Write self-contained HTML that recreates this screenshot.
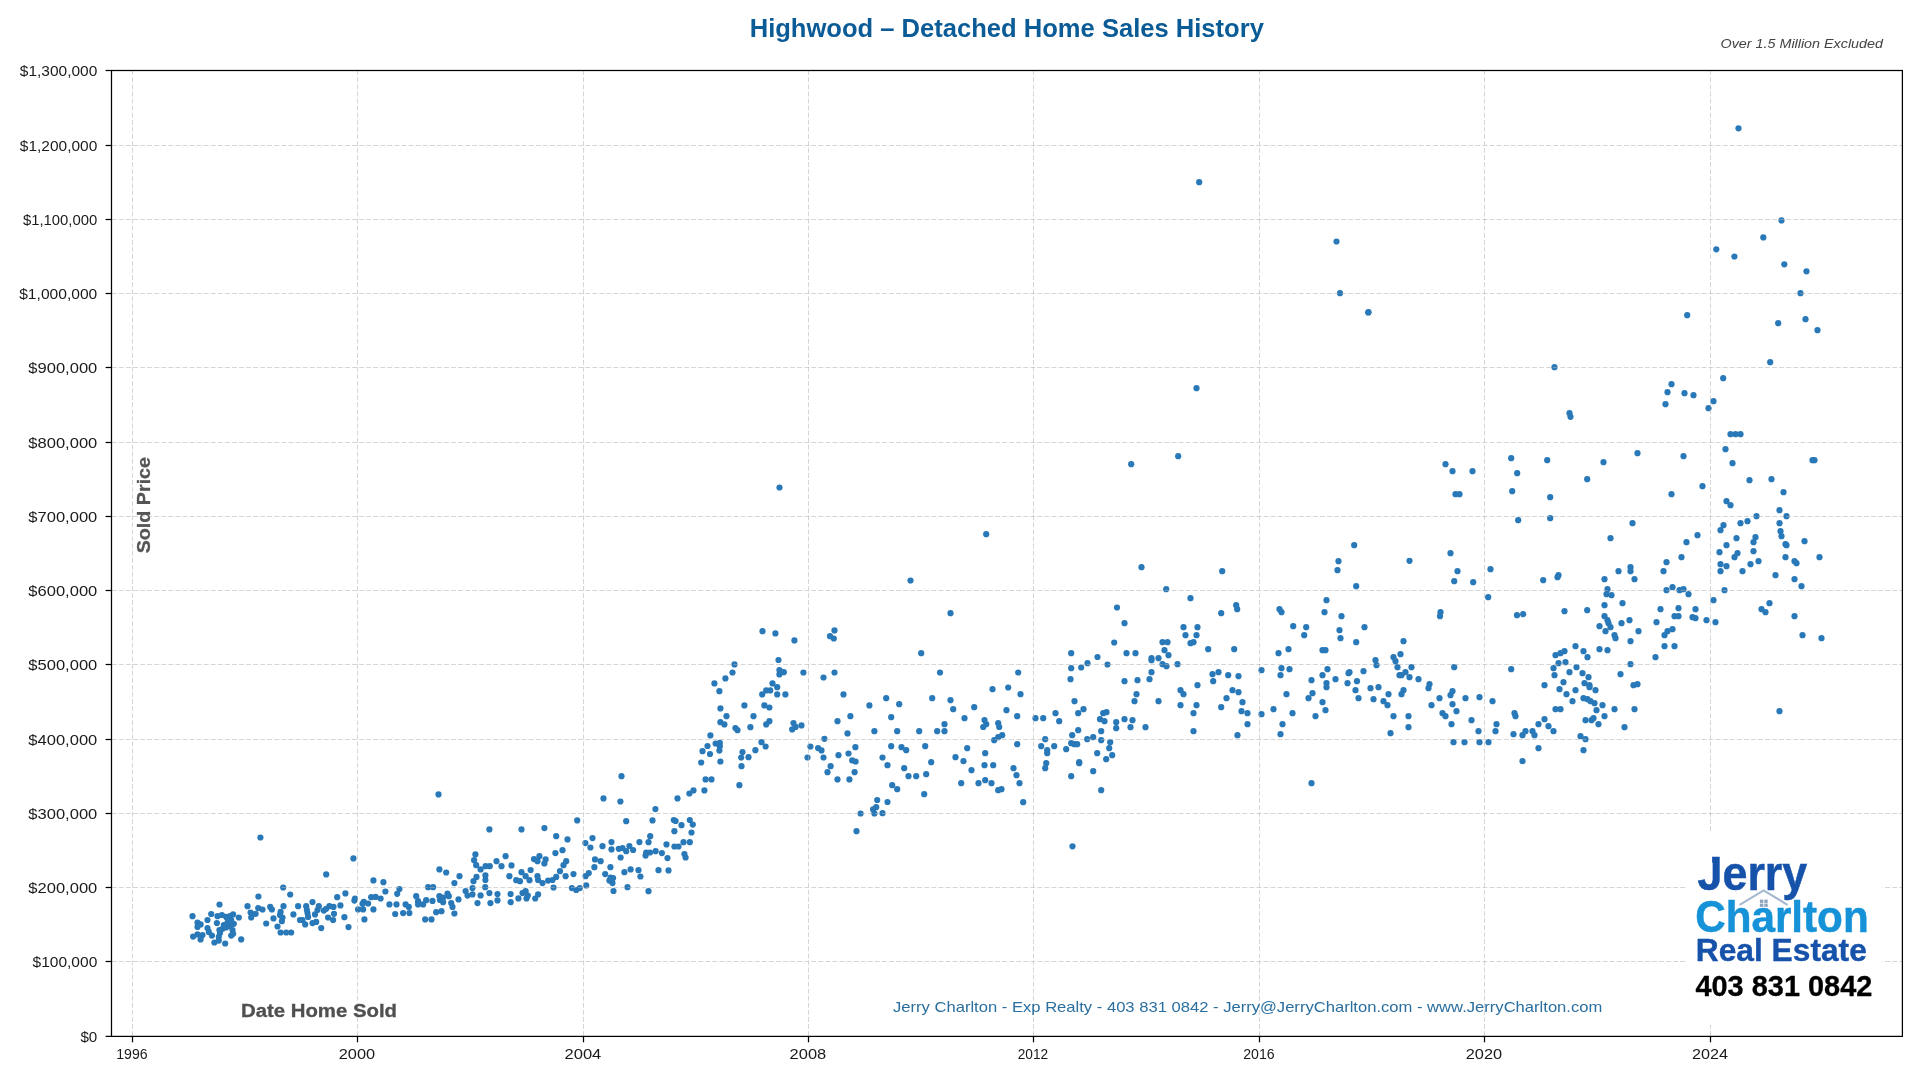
<!DOCTYPE html>
<html><head><meta charset="utf-8"><title>Highwood – Detached Home Sales History</title>
<style>
html,body{margin:0;padding:0;background:#fff;}
body{width:1920px;height:1080px;overflow:hidden;position:relative;font-family:"Liberation Sans",sans-serif;}
svg{position:absolute;left:0;top:0;will-change:transform;}
text{font-family:"Liberation Sans",sans-serif;}
</style></head><body>
<svg width="1920" height="1080" viewBox="0 0 1920 1080">
<g fill="#2978b8"><circle cx="260.4" cy="837.5" r="3.1"/><circle cx="283.2" cy="887.5" r="3.1"/><circle cx="290.2" cy="894.5" r="3.1"/><circle cx="258.4" cy="896.5" r="3.1"/><circle cx="219.5" cy="904.5" r="3.1"/><circle cx="247.5" cy="906.2" r="3.1"/><circle cx="258.2" cy="908.1" r="3.1"/><circle cx="262.5" cy="909.5" r="3.1"/><circle cx="270.2" cy="906.9" r="3.1"/><circle cx="271.9" cy="909.5" r="3.1"/><circle cx="283.5" cy="906.2" r="3.1"/><circle cx="298.1" cy="906.2" r="3.1"/><circle cx="192.5" cy="916.2" r="3.1"/><circle cx="211.2" cy="914.0" r="3.1"/><circle cx="207.5" cy="920.0" r="3.1"/><circle cx="217.5" cy="916.2" r="3.1"/><circle cx="221.9" cy="915.0" r="3.1"/><circle cx="226.2" cy="916.9" r="3.1"/><circle cx="233.1" cy="914.4" r="3.1"/><circle cx="238.8" cy="917.5" r="3.1"/><circle cx="230.0" cy="916.2" r="3.1"/><circle cx="250.6" cy="912.5" r="3.1"/><circle cx="255.6" cy="913.8" r="3.1"/><circle cx="251.2" cy="917.5" r="3.1"/><circle cx="280.6" cy="911.9" r="3.1"/><circle cx="280.0" cy="915.0" r="3.1"/><circle cx="282.5" cy="917.5" r="3.1"/><circle cx="281.9" cy="921.2" r="3.1"/><circle cx="273.5" cy="918.4" r="3.1"/><circle cx="293.4" cy="914.4" r="3.1"/><circle cx="266.2" cy="923.5" r="3.1"/><circle cx="277.5" cy="926.5" r="3.1"/><circle cx="280.6" cy="932.5" r="3.1"/><circle cx="286.2" cy="932.5" r="3.1"/><circle cx="291.2" cy="932.5" r="3.1"/><circle cx="300.0" cy="920.0" r="3.1"/><circle cx="197.5" cy="922.5" r="3.1"/><circle cx="200.6" cy="924.4" r="3.1"/><circle cx="197.5" cy="926.9" r="3.1"/><circle cx="216.9" cy="923.1" r="3.1"/><circle cx="207.5" cy="928.1" r="3.1"/><circle cx="208.8" cy="931.9" r="3.1"/><circle cx="211.9" cy="935.6" r="3.1"/><circle cx="193.1" cy="936.6" r="3.1"/><circle cx="197.5" cy="934.4" r="3.1"/><circle cx="202.5" cy="935.0" r="3.1"/><circle cx="200.6" cy="939.4" r="3.1"/><circle cx="214.4" cy="942.5" r="3.1"/><circle cx="218.8" cy="940.6" r="3.1"/><circle cx="225.2" cy="943.5" r="3.1"/><circle cx="241.2" cy="939.4" r="3.1"/><circle cx="220.0" cy="933.1" r="3.1"/><circle cx="218.8" cy="936.9" r="3.1"/><circle cx="222.5" cy="928.8" r="3.1"/><circle cx="226.2" cy="927.5" r="3.1"/><circle cx="230.0" cy="926.2" r="3.1"/><circle cx="233.8" cy="923.8" r="3.1"/><circle cx="227.5" cy="922.5" r="3.1"/><circle cx="231.2" cy="920.0" r="3.1"/><circle cx="232.5" cy="930.0" r="3.1"/><circle cx="233.1" cy="933.8" r="3.1"/><circle cx="231.2" cy="935.6" r="3.1"/><circle cx="223.8" cy="925.0" r="3.1"/><circle cx="219.4" cy="930.0" r="3.1"/><circle cx="353.4" cy="858.4" r="3.1"/><circle cx="326.2" cy="874.4" r="3.1"/><circle cx="373.4" cy="880.4" r="3.1"/><circle cx="383.4" cy="882.2" r="3.1"/><circle cx="399.4" cy="889.0" r="3.1"/><circle cx="397.2" cy="893.8" r="3.1"/><circle cx="385.4" cy="891.5" r="3.1"/><circle cx="345.4" cy="893.4" r="3.1"/><circle cx="337.2" cy="897.2" r="3.1"/><circle cx="355.0" cy="898.5" r="3.1"/><circle cx="354.4" cy="900.6" r="3.1"/><circle cx="371.2" cy="897.2" r="3.1"/><circle cx="375.6" cy="896.9" r="3.1"/><circle cx="380.6" cy="898.5" r="3.1"/><circle cx="363.8" cy="901.9" r="3.1"/><circle cx="368.1" cy="903.5" r="3.1"/><circle cx="362.5" cy="903.8" r="3.1"/><circle cx="416.2" cy="896.2" r="3.1"/><circle cx="418.1" cy="901.2" r="3.1"/><circle cx="418.1" cy="904.4" r="3.1"/><circle cx="312.5" cy="902.1" r="3.1"/><circle cx="306.2" cy="906.2" r="3.1"/><circle cx="306.9" cy="910.0" r="3.1"/><circle cx="307.5" cy="913.1" r="3.1"/><circle cx="308.1" cy="916.9" r="3.1"/><circle cx="302.5" cy="920.0" r="3.1"/><circle cx="305.2" cy="924.4" r="3.1"/><circle cx="312.5" cy="923.1" r="3.1"/><circle cx="316.2" cy="921.9" r="3.1"/><circle cx="321.2" cy="928.1" r="3.1"/><circle cx="315.0" cy="914.4" r="3.1"/><circle cx="318.8" cy="906.2" r="3.1"/><circle cx="317.5" cy="910.0" r="3.1"/><circle cx="323.8" cy="910.6" r="3.1"/><circle cx="326.2" cy="908.8" r="3.1"/><circle cx="329.4" cy="906.2" r="3.1"/><circle cx="333.5" cy="906.9" r="3.1"/><circle cx="334.0" cy="913.8" r="3.1"/><circle cx="328.1" cy="917.5" r="3.1"/><circle cx="333.1" cy="920.0" r="3.1"/><circle cx="340.4" cy="905.4" r="3.1"/><circle cx="344.4" cy="917.2" r="3.1"/><circle cx="348.5" cy="927.1" r="3.1"/><circle cx="358.1" cy="909.4" r="3.1"/><circle cx="363.1" cy="909.4" r="3.1"/><circle cx="364.4" cy="919.4" r="3.1"/><circle cx="373.4" cy="909.4" r="3.1"/><circle cx="389.4" cy="904.4" r="3.1"/><circle cx="396.5" cy="904.4" r="3.1"/><circle cx="405.6" cy="904.4" r="3.1"/><circle cx="408.8" cy="906.9" r="3.1"/><circle cx="395.2" cy="914.0" r="3.1"/><circle cx="403.1" cy="913.1" r="3.1"/><circle cx="409.4" cy="913.1" r="3.1"/><circle cx="438.5" cy="794.4" r="3.1"/><circle cx="489.4" cy="829.4" r="3.1"/><circle cx="521.5" cy="829.4" r="3.1"/><circle cx="475.4" cy="854.4" r="3.1"/><circle cx="474.1" cy="860.2" r="3.1"/><circle cx="476.2" cy="865.2" r="3.1"/><circle cx="480.6" cy="869.4" r="3.1"/><circle cx="485.6" cy="866.2" r="3.1"/><circle cx="489.8" cy="866.2" r="3.1"/><circle cx="496.5" cy="861.2" r="3.1"/><circle cx="501.5" cy="866.2" r="3.1"/><circle cx="505.6" cy="856.2" r="3.1"/><circle cx="511.5" cy="865.4" r="3.1"/><circle cx="534.0" cy="859.1" r="3.1"/><circle cx="537.5" cy="861.2" r="3.1"/><circle cx="539.4" cy="856.2" r="3.1"/><circle cx="439.4" cy="869.4" r="3.1"/><circle cx="446.2" cy="872.5" r="3.1"/><circle cx="459.5" cy="876.2" r="3.1"/><circle cx="454.4" cy="883.1" r="3.1"/><circle cx="476.5" cy="876.9" r="3.1"/><circle cx="473.5" cy="881.2" r="3.1"/><circle cx="485.4" cy="875.4" r="3.1"/><circle cx="485.4" cy="880.0" r="3.1"/><circle cx="485.2" cy="887.2" r="3.1"/><circle cx="509.4" cy="876.2" r="3.1"/><circle cx="521.5" cy="872.2" r="3.1"/><circle cx="525.6" cy="876.2" r="3.1"/><circle cx="529.5" cy="880.2" r="3.1"/><circle cx="530.6" cy="870.0" r="3.1"/><circle cx="516.2" cy="880.2" r="3.1"/><circle cx="520.0" cy="881.2" r="3.1"/><circle cx="537.5" cy="876.2" r="3.1"/><circle cx="538.1" cy="880.0" r="3.1"/><circle cx="428.1" cy="887.2" r="3.1"/><circle cx="433.1" cy="887.2" r="3.1"/><circle cx="472.5" cy="888.1" r="3.1"/><circle cx="465.6" cy="891.0" r="3.1"/><circle cx="467.5" cy="895.6" r="3.1"/><circle cx="472.5" cy="894.4" r="3.1"/><circle cx="480.6" cy="895.4" r="3.1"/><circle cx="489.4" cy="893.1" r="3.1"/><circle cx="497.5" cy="894.1" r="3.1"/><circle cx="497.5" cy="900.4" r="3.1"/><circle cx="510.6" cy="894.1" r="3.1"/><circle cx="510.6" cy="902.2" r="3.1"/><circle cx="518.4" cy="898.4" r="3.1"/><circle cx="522.5" cy="893.1" r="3.1"/><circle cx="525.6" cy="891.2" r="3.1"/><circle cx="527.8" cy="895.6" r="3.1"/><circle cx="526.5" cy="898.5" r="3.1"/><circle cx="535.2" cy="898.5" r="3.1"/><circle cx="538.1" cy="894.4" r="3.1"/><circle cx="477.5" cy="903.1" r="3.1"/><circle cx="490.4" cy="903.1" r="3.1"/><circle cx="458.5" cy="899.4" r="3.1"/><circle cx="451.2" cy="903.1" r="3.1"/><circle cx="452.5" cy="906.9" r="3.1"/><circle cx="454.4" cy="913.5" r="3.1"/><circle cx="426.2" cy="900.2" r="3.1"/><circle cx="432.5" cy="900.9" r="3.1"/><circle cx="439.4" cy="896.2" r="3.1"/><circle cx="443.1" cy="897.5" r="3.1"/><circle cx="447.5" cy="893.5" r="3.1"/><circle cx="448.8" cy="896.2" r="3.1"/><circle cx="440.0" cy="900.0" r="3.1"/><circle cx="443.1" cy="902.2" r="3.1"/><circle cx="423.1" cy="904.4" r="3.1"/><circle cx="436.2" cy="912.2" r="3.1"/><circle cx="441.5" cy="911.2" r="3.1"/><circle cx="425.2" cy="919.4" r="3.1"/><circle cx="431.5" cy="919.4" r="3.1"/><circle cx="621.5" cy="776.2" r="3.1"/><circle cx="603.5" cy="798.4" r="3.1"/><circle cx="620.4" cy="801.5" r="3.1"/><circle cx="655.4" cy="809.1" r="3.1"/><circle cx="577.2" cy="820.4" r="3.1"/><circle cx="626.2" cy="821.2" r="3.1"/><circle cx="652.5" cy="820.4" r="3.1"/><circle cx="544.4" cy="828.1" r="3.1"/><circle cx="556.2" cy="836.2" r="3.1"/><circle cx="567.5" cy="839.4" r="3.1"/><circle cx="592.5" cy="838.1" r="3.1"/><circle cx="585.4" cy="843.1" r="3.1"/><circle cx="590.4" cy="847.5" r="3.1"/><circle cx="602.5" cy="846.2" r="3.1"/><circle cx="611.5" cy="842.1" r="3.1"/><circle cx="611.5" cy="849.4" r="3.1"/><circle cx="618.8" cy="848.8" r="3.1"/><circle cx="622.5" cy="848.1" r="3.1"/><circle cx="626.2" cy="851.2" r="3.1"/><circle cx="629.4" cy="846.0" r="3.1"/><circle cx="633.1" cy="850.0" r="3.1"/><circle cx="639.4" cy="842.1" r="3.1"/><circle cx="650.2" cy="836.2" r="3.1"/><circle cx="648.5" cy="842.2" r="3.1"/><circle cx="646.2" cy="852.5" r="3.1"/><circle cx="645.6" cy="855.6" r="3.1"/><circle cx="650.0" cy="852.5" r="3.1"/><circle cx="655.6" cy="851.2" r="3.1"/><circle cx="562.5" cy="850.2" r="3.1"/><circle cx="555.4" cy="853.1" r="3.1"/><circle cx="620.6" cy="857.5" r="3.1"/><circle cx="545.6" cy="859.4" r="3.1"/><circle cx="544.4" cy="863.5" r="3.1"/><circle cx="566.2" cy="861.2" r="3.1"/><circle cx="563.5" cy="865.2" r="3.1"/><circle cx="560.0" cy="871.2" r="3.1"/><circle cx="556.2" cy="876.9" r="3.1"/><circle cx="552.5" cy="880.0" r="3.1"/><circle cx="548.1" cy="880.6" r="3.1"/><circle cx="542.5" cy="883.1" r="3.1"/><circle cx="565.6" cy="876.2" r="3.1"/><circle cx="573.5" cy="874.1" r="3.1"/><circle cx="595.0" cy="859.4" r="3.1"/><circle cx="600.6" cy="861.2" r="3.1"/><circle cx="594.4" cy="867.2" r="3.1"/><circle cx="610.4" cy="867.2" r="3.1"/><circle cx="588.8" cy="873.1" r="3.1"/><circle cx="585.6" cy="876.2" r="3.1"/><circle cx="605.2" cy="874.1" r="3.1"/><circle cx="610.6" cy="877.5" r="3.1"/><circle cx="613.1" cy="878.1" r="3.1"/><circle cx="609.4" cy="880.6" r="3.1"/><circle cx="612.5" cy="883.1" r="3.1"/><circle cx="624.4" cy="872.2" r="3.1"/><circle cx="630.6" cy="869.4" r="3.1"/><circle cx="638.5" cy="870.2" r="3.1"/><circle cx="640.4" cy="876.5" r="3.1"/><circle cx="658.5" cy="870.2" r="3.1"/><circle cx="586.2" cy="885.4" r="3.1"/><circle cx="571.9" cy="888.1" r="3.1"/><circle cx="576.2" cy="890.0" r="3.1"/><circle cx="579.8" cy="888.1" r="3.1"/><circle cx="553.5" cy="887.5" r="3.1"/><circle cx="613.5" cy="891.0" r="3.1"/><circle cx="627.5" cy="887.2" r="3.1"/><circle cx="648.5" cy="891.2" r="3.1"/><circle cx="707.5" cy="746.0" r="3.1"/><circle cx="715.6" cy="743.5" r="3.1"/><circle cx="719.8" cy="742.8" r="3.1"/><circle cx="719.8" cy="746.2" r="3.1"/><circle cx="719.4" cy="750.6" r="3.1"/><circle cx="702.5" cy="751.2" r="3.1"/><circle cx="710.0" cy="754.0" r="3.1"/><circle cx="701.2" cy="762.5" r="3.1"/><circle cx="720.4" cy="761.5" r="3.1"/><circle cx="742.5" cy="752.1" r="3.1"/><circle cx="741.2" cy="757.5" r="3.1"/><circle cx="748.5" cy="757.2" r="3.1"/><circle cx="741.5" cy="766.2" r="3.1"/><circle cx="755.4" cy="750.2" r="3.1"/><circle cx="761.5" cy="742.2" r="3.1"/><circle cx="765.6" cy="746.5" r="3.1"/><circle cx="705.6" cy="779.4" r="3.1"/><circle cx="711.5" cy="779.4" r="3.1"/><circle cx="739.4" cy="785.2" r="3.1"/><circle cx="704.4" cy="790.4" r="3.1"/><circle cx="693.5" cy="790.4" r="3.1"/><circle cx="689.4" cy="793.5" r="3.1"/><circle cx="677.5" cy="798.4" r="3.1"/><circle cx="673.8" cy="820.0" r="3.1"/><circle cx="675.6" cy="821.0" r="3.1"/><circle cx="681.5" cy="825.2" r="3.1"/><circle cx="689.8" cy="820.0" r="3.1"/><circle cx="692.8" cy="824.6" r="3.1"/><circle cx="674.4" cy="831.2" r="3.1"/><circle cx="691.5" cy="832.5" r="3.1"/><circle cx="666.5" cy="844.4" r="3.1"/><circle cx="674.4" cy="846.5" r="3.1"/><circle cx="678.5" cy="846.5" r="3.1"/><circle cx="683.5" cy="842.2" r="3.1"/><circle cx="689.8" cy="842.2" r="3.1"/><circle cx="661.9" cy="853.1" r="3.1"/><circle cx="667.5" cy="858.1" r="3.1"/><circle cx="684.4" cy="854.0" r="3.1"/><circle cx="685.6" cy="857.5" r="3.1"/><circle cx="668.5" cy="870.4" r="3.1"/><circle cx="762.5" cy="631.2" r="3.1"/><circle cx="775.4" cy="633.4" r="3.1"/><circle cx="778.5" cy="660.0" r="3.1"/><circle cx="779.4" cy="670.0" r="3.1"/><circle cx="779.4" cy="674.4" r="3.1"/><circle cx="734.5" cy="664.4" r="3.1"/><circle cx="732.5" cy="672.5" r="3.1"/><circle cx="725.4" cy="678.4" r="3.1"/><circle cx="714.4" cy="683.4" r="3.1"/><circle cx="719.4" cy="691.2" r="3.1"/><circle cx="772.5" cy="683.4" r="3.1"/><circle cx="777.2" cy="687.2" r="3.1"/><circle cx="766.2" cy="690.4" r="3.1"/><circle cx="770.2" cy="690.4" r="3.1"/><circle cx="762.2" cy="694.4" r="3.1"/><circle cx="777.2" cy="694.4" r="3.1"/><circle cx="744.4" cy="705.4" r="3.1"/><circle cx="720.4" cy="708.4" r="3.1"/><circle cx="764.4" cy="705.4" r="3.1"/><circle cx="769.4" cy="707.5" r="3.1"/><circle cx="726.5" cy="716.2" r="3.1"/><circle cx="753.5" cy="716.2" r="3.1"/><circle cx="720.4" cy="722.2" r="3.1"/><circle cx="724.4" cy="724.4" r="3.1"/><circle cx="769.4" cy="721.2" r="3.1"/><circle cx="766.2" cy="724.4" r="3.1"/><circle cx="735.4" cy="728.1" r="3.1"/><circle cx="737.5" cy="730.2" r="3.1"/><circle cx="750.4" cy="727.2" r="3.1"/><circle cx="710.4" cy="735.4" r="3.1"/><circle cx="794.4" cy="640.4" r="3.1"/><circle cx="834.5" cy="630.4" r="3.1"/><circle cx="830.0" cy="636.2" r="3.1"/><circle cx="833.8" cy="638.5" r="3.1"/><circle cx="783.8" cy="672.2" r="3.1"/><circle cx="803.4" cy="672.5" r="3.1"/><circle cx="823.5" cy="677.5" r="3.1"/><circle cx="834.5" cy="672.5" r="3.1"/><circle cx="785.4" cy="694.4" r="3.1"/><circle cx="843.5" cy="694.4" r="3.1"/><circle cx="869.4" cy="705.4" r="3.1"/><circle cx="850.4" cy="716.2" r="3.1"/><circle cx="837.5" cy="721.2" r="3.1"/><circle cx="793.5" cy="723.1" r="3.1"/><circle cx="795.6" cy="726.9" r="3.1"/><circle cx="792.2" cy="729.4" r="3.1"/><circle cx="801.5" cy="725.4" r="3.1"/><circle cx="847.5" cy="733.4" r="3.1"/><circle cx="874.4" cy="731.2" r="3.1"/><circle cx="824.4" cy="738.8" r="3.1"/><circle cx="810.4" cy="746.5" r="3.1"/><circle cx="818.1" cy="748.1" r="3.1"/><circle cx="821.5" cy="750.4" r="3.1"/><circle cx="807.5" cy="757.5" r="3.1"/><circle cx="823.5" cy="757.5" r="3.1"/><circle cx="838.5" cy="755.2" r="3.1"/><circle cx="848.5" cy="753.5" r="3.1"/><circle cx="855.4" cy="747.2" r="3.1"/><circle cx="852.2" cy="760.4" r="3.1"/><circle cx="855.6" cy="761.5" r="3.1"/><circle cx="830.6" cy="766.2" r="3.1"/><circle cx="827.5" cy="772.2" r="3.1"/><circle cx="854.6" cy="772.2" r="3.1"/><circle cx="837.5" cy="779.4" r="3.1"/><circle cx="849.4" cy="779.4" r="3.1"/><circle cx="877.2" cy="800.0" r="3.1"/><circle cx="876.2" cy="807.2" r="3.1"/><circle cx="873.1" cy="809.4" r="3.1"/><circle cx="874.4" cy="813.5" r="3.1"/><circle cx="860.6" cy="813.5" r="3.1"/><circle cx="856.5" cy="831.2" r="3.1"/><circle cx="910.5" cy="580.5" r="3.1"/><circle cx="950.5" cy="613.2" r="3.1"/><circle cx="921.2" cy="653.2" r="3.1"/><circle cx="940.0" cy="672.5" r="3.1"/><circle cx="1018.2" cy="672.5" r="3.1"/><circle cx="1117.0" cy="607.5" r="3.1"/><circle cx="1114.2" cy="642.5" r="3.1"/><circle cx="1071.2" cy="653.2" r="3.1"/><circle cx="1071.2" cy="668.2" r="3.1"/><circle cx="1081.2" cy="667.5" r="3.1"/><circle cx="1087.5" cy="663.2" r="3.1"/><circle cx="1097.5" cy="657.0" r="3.1"/><circle cx="1107.5" cy="664.5" r="3.1"/><circle cx="1070.5" cy="679.2" r="3.1"/><circle cx="992.5" cy="689.2" r="3.1"/><circle cx="1008.2" cy="687.5" r="3.1"/><circle cx="1020.5" cy="694.2" r="3.1"/><circle cx="886.2" cy="698.2" r="3.1"/><circle cx="899.2" cy="704.2" r="3.1"/><circle cx="932.2" cy="698.2" r="3.1"/><circle cx="950.5" cy="700.2" r="3.1"/><circle cx="953.2" cy="709.2" r="3.1"/><circle cx="974.2" cy="707.2" r="3.1"/><circle cx="1006.5" cy="710.2" r="3.1"/><circle cx="1017.2" cy="716.2" r="3.1"/><circle cx="891.2" cy="717.2" r="3.1"/><circle cx="964.5" cy="718.2" r="3.1"/><circle cx="984.5" cy="720.0" r="3.1"/><circle cx="986.2" cy="724.2" r="3.1"/><circle cx="983.2" cy="727.0" r="3.1"/><circle cx="998.2" cy="723.2" r="3.1"/><circle cx="999.2" cy="727.0" r="3.1"/><circle cx="944.5" cy="724.2" r="3.1"/><circle cx="937.2" cy="731.2" r="3.1"/><circle cx="944.5" cy="731.2" r="3.1"/><circle cx="919.2" cy="731.2" r="3.1"/><circle cx="897.2" cy="731.2" r="3.1"/><circle cx="994.2" cy="740.2" r="3.1"/><circle cx="998.2" cy="737.2" r="3.1"/><circle cx="1002.2" cy="735.2" r="3.1"/><circle cx="1017.2" cy="744.2" r="3.1"/><circle cx="891.2" cy="746.2" r="3.1"/><circle cx="901.5" cy="747.2" r="3.1"/><circle cx="906.2" cy="750.2" r="3.1"/><circle cx="925.2" cy="746.2" r="3.1"/><circle cx="967.2" cy="748.2" r="3.1"/><circle cx="882.5" cy="757.5" r="3.1"/><circle cx="887.5" cy="765.2" r="3.1"/><circle cx="955.5" cy="757.2" r="3.1"/><circle cx="963.5" cy="761.2" r="3.1"/><circle cx="985.2" cy="753.2" r="3.1"/><circle cx="931.2" cy="762.2" r="3.1"/><circle cx="904.2" cy="768.2" r="3.1"/><circle cx="908.5" cy="776.2" r="3.1"/><circle cx="916.2" cy="776.2" r="3.1"/><circle cx="926.2" cy="774.2" r="3.1"/><circle cx="971.5" cy="770.2" r="3.1"/><circle cx="984.5" cy="765.2" r="3.1"/><circle cx="993.2" cy="765.2" r="3.1"/><circle cx="1013.5" cy="768.2" r="3.1"/><circle cx="1016.5" cy="775.2" r="3.1"/><circle cx="1019.5" cy="783.2" r="3.1"/><circle cx="892.2" cy="785.2" r="3.1"/><circle cx="897.2" cy="789.2" r="3.1"/><circle cx="924.2" cy="794.2" r="3.1"/><circle cx="961.2" cy="783.2" r="3.1"/><circle cx="978.5" cy="783.2" r="3.1"/><circle cx="985.2" cy="780.2" r="3.1"/><circle cx="991.5" cy="783.2" r="3.1"/><circle cx="998.2" cy="790.2" r="3.1"/><circle cx="1001.5" cy="789.2" r="3.1"/><circle cx="887.5" cy="802.0" r="3.1"/><circle cx="1023.2" cy="802.2" r="3.1"/><circle cx="882.5" cy="813.2" r="3.1"/><circle cx="1035.5" cy="718.2" r="3.1"/><circle cx="1043.2" cy="718.2" r="3.1"/><circle cx="1055.5" cy="713.2" r="3.1"/><circle cx="1059.2" cy="721.2" r="3.1"/><circle cx="1074.5" cy="701.2" r="3.1"/><circle cx="1078.2" cy="713.2" r="3.1"/><circle cx="1083.5" cy="709.2" r="3.1"/><circle cx="1103.2" cy="713.2" r="3.1"/><circle cx="1106.5" cy="712.2" r="3.1"/><circle cx="1100.0" cy="719.2" r="3.1"/><circle cx="1104.5" cy="721.2" r="3.1"/><circle cx="1116.2" cy="722.2" r="3.1"/><circle cx="1116.2" cy="728.2" r="3.1"/><circle cx="1045.2" cy="739.2" r="3.1"/><circle cx="1041.2" cy="746.2" r="3.1"/><circle cx="1047.2" cy="750.2" r="3.1"/><circle cx="1047.2" cy="753.2" r="3.1"/><circle cx="1054.2" cy="746.2" r="3.1"/><circle cx="1066.2" cy="749.2" r="3.1"/><circle cx="1072.2" cy="735.2" r="3.1"/><circle cx="1078.2" cy="730.2" r="3.1"/><circle cx="1071.2" cy="743.2" r="3.1"/><circle cx="1074.2" cy="744.2" r="3.1"/><circle cx="1077.2" cy="744.2" r="3.1"/><circle cx="1087.2" cy="739.2" r="3.1"/><circle cx="1093.2" cy="737.2" r="3.1"/><circle cx="1101.2" cy="731.2" r="3.1"/><circle cx="1101.2" cy="740.2" r="3.1"/><circle cx="1110.2" cy="742.2" r="3.1"/><circle cx="1109.2" cy="748.2" r="3.1"/><circle cx="1112.2" cy="755.2" r="3.1"/><circle cx="1106.2" cy="759.2" r="3.1"/><circle cx="1097.2" cy="753.2" r="3.1"/><circle cx="1046.2" cy="763.2" r="3.1"/><circle cx="1045.2" cy="768.2" r="3.1"/><circle cx="1079.2" cy="762.2" r="3.1"/><circle cx="1079.2" cy="763.2" r="3.1"/><circle cx="1093.2" cy="771.2" r="3.1"/><circle cx="1071.2" cy="776.2" r="3.1"/><circle cx="1101.2" cy="790.2" r="3.1"/><circle cx="1141.5" cy="567.2" r="3.1"/><circle cx="1222.2" cy="571.2" r="3.1"/><circle cx="1166.2" cy="589.2" r="3.1"/><circle cx="1190.5" cy="598.2" r="3.1"/><circle cx="1236.2" cy="605.2" r="3.1"/><circle cx="1237.2" cy="609.2" r="3.1"/><circle cx="1221.2" cy="613.2" r="3.1"/><circle cx="1124.5" cy="623.2" r="3.1"/><circle cx="1183.5" cy="627.2" r="3.1"/><circle cx="1197.5" cy="627.2" r="3.1"/><circle cx="1185.5" cy="635.2" r="3.1"/><circle cx="1196.5" cy="635.2" r="3.1"/><circle cx="1162.5" cy="642.2" r="3.1"/><circle cx="1167.5" cy="642.2" r="3.1"/><circle cx="1190.5" cy="643.2" r="3.1"/><circle cx="1193.5" cy="642.2" r="3.1"/><circle cx="1164.5" cy="650.2" r="3.1"/><circle cx="1168.5" cy="655.2" r="3.1"/><circle cx="1208.2" cy="649.2" r="3.1"/><circle cx="1234.2" cy="649.2" r="3.1"/><circle cx="1126.5" cy="653.2" r="3.1"/><circle cx="1135.5" cy="653.2" r="3.1"/><circle cx="1151.5" cy="658.2" r="3.1"/><circle cx="1151.5" cy="660.2" r="3.1"/><circle cx="1158.5" cy="658.2" r="3.1"/><circle cx="1162.5" cy="664.2" r="3.1"/><circle cx="1166.5" cy="666.2" r="3.1"/><circle cx="1177.5" cy="664.2" r="3.1"/><circle cx="1151.5" cy="672.2" r="3.1"/><circle cx="1149.5" cy="679.2" r="3.1"/><circle cx="1124.5" cy="681.2" r="3.1"/><circle cx="1137.5" cy="680.2" r="3.1"/><circle cx="1212.5" cy="674.2" r="3.1"/><circle cx="1218.5" cy="672.2" r="3.1"/><circle cx="1228.2" cy="675.2" r="3.1"/><circle cx="1238.5" cy="676.2" r="3.1"/><circle cx="1213.2" cy="681.2" r="3.1"/><circle cx="1197.5" cy="685.2" r="3.1"/><circle cx="1180.5" cy="690.2" r="3.1"/><circle cx="1183.5" cy="694.2" r="3.1"/><circle cx="1136.5" cy="694.2" r="3.1"/><circle cx="1134.5" cy="701.2" r="3.1"/><circle cx="1158.5" cy="701.2" r="3.1"/><circle cx="1232.5" cy="690.2" r="3.1"/><circle cx="1238.5" cy="692.2" r="3.1"/><circle cx="1226.5" cy="698.2" r="3.1"/><circle cx="1242.5" cy="702.2" r="3.1"/><circle cx="1180.5" cy="705.2" r="3.1"/><circle cx="1196.5" cy="705.2" r="3.1"/><circle cx="1221.2" cy="707.2" r="3.1"/><circle cx="1241.5" cy="711.2" r="3.1"/><circle cx="1247.5" cy="713.2" r="3.1"/><circle cx="1193.5" cy="713.2" r="3.1"/><circle cx="1124.5" cy="719.2" r="3.1"/><circle cx="1132.5" cy="720.2" r="3.1"/><circle cx="1130.5" cy="727.2" r="3.1"/><circle cx="1145.5" cy="727.2" r="3.1"/><circle cx="1193.5" cy="731.2" r="3.1"/><circle cx="1247.5" cy="724.2" r="3.1"/><circle cx="1237.5" cy="735.2" r="3.1"/><circle cx="1338.5" cy="561.2" r="3.1"/><circle cx="1337.5" cy="570.2" r="3.1"/><circle cx="1356.2" cy="586.2" r="3.1"/><circle cx="1326.5" cy="600.2" r="3.1"/><circle cx="1324.5" cy="612.2" r="3.1"/><circle cx="1279.5" cy="609.2" r="3.1"/><circle cx="1281.5" cy="612.2" r="3.1"/><circle cx="1341.5" cy="616.2" r="3.1"/><circle cx="1293.2" cy="626.2" r="3.1"/><circle cx="1306.2" cy="627.2" r="3.1"/><circle cx="1304.2" cy="635.2" r="3.1"/><circle cx="1339.5" cy="630.2" r="3.1"/><circle cx="1340.5" cy="638.2" r="3.1"/><circle cx="1356.2" cy="642.2" r="3.1"/><circle cx="1288.5" cy="649.2" r="3.1"/><circle cx="1322.5" cy="650.2" r="3.1"/><circle cx="1325.5" cy="650.2" r="3.1"/><circle cx="1278.5" cy="653.2" r="3.1"/><circle cx="1261.5" cy="670.2" r="3.1"/><circle cx="1281.5" cy="668.2" r="3.1"/><circle cx="1289.5" cy="669.2" r="3.1"/><circle cx="1280.5" cy="675.2" r="3.1"/><circle cx="1327.5" cy="669.2" r="3.1"/><circle cx="1322.5" cy="675.2" r="3.1"/><circle cx="1311.5" cy="680.2" r="3.1"/><circle cx="1326.5" cy="683.2" r="3.1"/><circle cx="1326.5" cy="687.2" r="3.1"/><circle cx="1335.5" cy="679.2" r="3.1"/><circle cx="1348.5" cy="673.2" r="3.1"/><circle cx="1349.5" cy="672.2" r="3.1"/><circle cx="1347.5" cy="683.2" r="3.1"/><circle cx="1357.0" cy="681.2" r="3.1"/><circle cx="1355.5" cy="690.2" r="3.1"/><circle cx="1358.5" cy="698.2" r="3.1"/><circle cx="1286.5" cy="694.2" r="3.1"/><circle cx="1312.5" cy="693.2" r="3.1"/><circle cx="1308.5" cy="698.2" r="3.1"/><circle cx="1322.5" cy="702.2" r="3.1"/><circle cx="1325.5" cy="710.2" r="3.1"/><circle cx="1273.5" cy="709.2" r="3.1"/><circle cx="1292.5" cy="713.2" r="3.1"/><circle cx="1261.5" cy="714.2" r="3.1"/><circle cx="1315.5" cy="716.2" r="3.1"/><circle cx="1282.5" cy="724.2" r="3.1"/><circle cx="1280.5" cy="734.2" r="3.1"/><circle cx="1311.5" cy="783.2" r="3.1"/><circle cx="1409.5" cy="560.8" r="3.1"/><circle cx="1457.5" cy="571.2" r="3.1"/><circle cx="1454.2" cy="581.2" r="3.1"/><circle cx="1473.2" cy="582.2" r="3.1"/><circle cx="1490.5" cy="569.2" r="3.1"/><circle cx="1488.2" cy="597.2" r="3.1"/><circle cx="1543.2" cy="580.2" r="3.1"/><circle cx="1557.5" cy="577.2" r="3.1"/><circle cx="1558.5" cy="575.2" r="3.1"/><circle cx="1564.5" cy="611.2" r="3.1"/><circle cx="1587.2" cy="610.2" r="3.1"/><circle cx="1517.0" cy="615.2" r="3.1"/><circle cx="1523.2" cy="614.2" r="3.1"/><circle cx="1440.5" cy="612.2" r="3.1"/><circle cx="1440.0" cy="616.2" r="3.1"/><circle cx="1364.5" cy="627.2" r="3.1"/><circle cx="1403.5" cy="641.2" r="3.1"/><circle cx="1400.5" cy="654.2" r="3.1"/><circle cx="1393.5" cy="657.2" r="3.1"/><circle cx="1395.5" cy="661.2" r="3.1"/><circle cx="1375.5" cy="660.2" r="3.1"/><circle cx="1376.5" cy="665.2" r="3.1"/><circle cx="1397.5" cy="667.2" r="3.1"/><circle cx="1411.5" cy="667.2" r="3.1"/><circle cx="1363.5" cy="671.2" r="3.1"/><circle cx="1405.5" cy="672.2" r="3.1"/><circle cx="1399.5" cy="675.2" r="3.1"/><circle cx="1401.5" cy="675.2" r="3.1"/><circle cx="1409.5" cy="677.2" r="3.1"/><circle cx="1418.5" cy="679.2" r="3.1"/><circle cx="1454.2" cy="667.2" r="3.1"/><circle cx="1429.5" cy="684.2" r="3.1"/><circle cx="1428.5" cy="688.2" r="3.1"/><circle cx="1370.5" cy="688.2" r="3.1"/><circle cx="1378.5" cy="687.2" r="3.1"/><circle cx="1388.5" cy="694.2" r="3.1"/><circle cx="1403.5" cy="690.2" r="3.1"/><circle cx="1401.5" cy="694.2" r="3.1"/><circle cx="1373.5" cy="699.2" r="3.1"/><circle cx="1383.5" cy="701.2" r="3.1"/><circle cx="1387.5" cy="705.2" r="3.1"/><circle cx="1452.5" cy="691.2" r="3.1"/><circle cx="1450.5" cy="695.2" r="3.1"/><circle cx="1439.5" cy="698.2" r="3.1"/><circle cx="1431.5" cy="705.2" r="3.1"/><circle cx="1465.5" cy="698.2" r="3.1"/><circle cx="1479.5" cy="697.2" r="3.1"/><circle cx="1492.5" cy="701.2" r="3.1"/><circle cx="1452.5" cy="704.2" r="3.1"/><circle cx="1456.5" cy="711.2" r="3.1"/><circle cx="1442.5" cy="713.2" r="3.1"/><circle cx="1445.5" cy="716.2" r="3.1"/><circle cx="1393.5" cy="716.2" r="3.1"/><circle cx="1408.5" cy="716.2" r="3.1"/><circle cx="1408.5" cy="727.2" r="3.1"/><circle cx="1390.5" cy="733.2" r="3.1"/><circle cx="1451.5" cy="724.2" r="3.1"/><circle cx="1471.5" cy="720.2" r="3.1"/><circle cx="1478.5" cy="731.2" r="3.1"/><circle cx="1496.5" cy="724.2" r="3.1"/><circle cx="1495.5" cy="731.2" r="3.1"/><circle cx="1453.5" cy="742.2" r="3.1"/><circle cx="1464.5" cy="742.2" r="3.1"/><circle cx="1479.5" cy="742.2" r="3.1"/><circle cx="1488.5" cy="742.2" r="3.1"/><circle cx="1511.2" cy="669.2" r="3.1"/><circle cx="1544.5" cy="685.2" r="3.1"/><circle cx="1514.5" cy="713.2" r="3.1"/><circle cx="1515.5" cy="716.2" r="3.1"/><circle cx="1513.5" cy="734.2" r="3.1"/><circle cx="1522.5" cy="735.2" r="3.1"/><circle cx="1525.5" cy="731.2" r="3.1"/><circle cx="1532.5" cy="731.2" r="3.1"/><circle cx="1534.5" cy="735.2" r="3.1"/><circle cx="1538.5" cy="724.2" r="3.1"/><circle cx="1544.5" cy="719.2" r="3.1"/><circle cx="1548.5" cy="726.2" r="3.1"/><circle cx="1553.5" cy="731.2" r="3.1"/><circle cx="1538.5" cy="748.2" r="3.1"/><circle cx="1522.5" cy="761.2" r="3.1"/><circle cx="1555.5" cy="655.2" r="3.1"/><circle cx="1560.5" cy="653.2" r="3.1"/><circle cx="1564.5" cy="651.2" r="3.1"/><circle cx="1575.5" cy="646.2" r="3.1"/><circle cx="1583.5" cy="651.2" r="3.1"/><circle cx="1587.5" cy="657.2" r="3.1"/><circle cx="1558.5" cy="663.2" r="3.1"/><circle cx="1565.5" cy="662.2" r="3.1"/><circle cx="1553.5" cy="668.2" r="3.1"/><circle cx="1554.5" cy="675.2" r="3.1"/><circle cx="1569.5" cy="672.2" r="3.1"/><circle cx="1576.5" cy="667.2" r="3.1"/><circle cx="1582.5" cy="673.2" r="3.1"/><circle cx="1588.5" cy="677.2" r="3.1"/><circle cx="1563.5" cy="682.2" r="3.1"/><circle cx="1559.5" cy="689.2" r="3.1"/><circle cx="1584.5" cy="683.2" r="3.1"/><circle cx="1589.5" cy="685.2" r="3.1"/><circle cx="1589.5" cy="687.2" r="3.1"/><circle cx="1595.5" cy="690.2" r="3.1"/><circle cx="1575.5" cy="690.2" r="3.1"/><circle cx="1566.5" cy="694.2" r="3.1"/><circle cx="1572.5" cy="701.2" r="3.1"/><circle cx="1583.5" cy="698.2" r="3.1"/><circle cx="1587.5" cy="699.2" r="3.1"/><circle cx="1590.5" cy="701.2" r="3.1"/><circle cx="1594.5" cy="703.2" r="3.1"/><circle cx="1596.5" cy="710.2" r="3.1"/><circle cx="1555.5" cy="709.2" r="3.1"/><circle cx="1560.5" cy="709.2" r="3.1"/><circle cx="1585.5" cy="720.2" r="3.1"/><circle cx="1591.5" cy="720.2" r="3.1"/><circle cx="1593.5" cy="718.2" r="3.1"/><circle cx="1598.5" cy="724.2" r="3.1"/><circle cx="1580.5" cy="736.2" r="3.1"/><circle cx="1585.5" cy="739.2" r="3.1"/><circle cx="1583.5" cy="750.2" r="3.1"/><circle cx="1599.5" cy="626.2" r="3.1"/><circle cx="1599.5" cy="649.2" r="3.1"/><circle cx="1666.5" cy="562.2" r="3.1"/><circle cx="1630.5" cy="567.2" r="3.1"/><circle cx="1630.5" cy="571.2" r="3.1"/><circle cx="1618.5" cy="571.2" r="3.1"/><circle cx="1663.5" cy="571.2" r="3.1"/><circle cx="1634.5" cy="579.2" r="3.1"/><circle cx="1604.5" cy="579.2" r="3.1"/><circle cx="1607.5" cy="589.2" r="3.1"/><circle cx="1606.5" cy="594.2" r="3.1"/><circle cx="1611.5" cy="595.2" r="3.1"/><circle cx="1666.5" cy="590.2" r="3.1"/><circle cx="1672.5" cy="587.2" r="3.1"/><circle cx="1679.5" cy="590.2" r="3.1"/><circle cx="1683.5" cy="589.2" r="3.1"/><circle cx="1688.5" cy="594.2" r="3.1"/><circle cx="1604.5" cy="605.2" r="3.1"/><circle cx="1622.5" cy="603.2" r="3.1"/><circle cx="1660.5" cy="609.2" r="3.1"/><circle cx="1678.5" cy="608.2" r="3.1"/><circle cx="1695.5" cy="609.2" r="3.1"/><circle cx="1604.5" cy="616.2" r="3.1"/><circle cx="1607.5" cy="620.2" r="3.1"/><circle cx="1608.5" cy="623.2" r="3.1"/><circle cx="1610.5" cy="627.2" r="3.1"/><circle cx="1621.5" cy="623.2" r="3.1"/><circle cx="1629.5" cy="620.2" r="3.1"/><circle cx="1656.5" cy="622.2" r="3.1"/><circle cx="1674.5" cy="616.2" r="3.1"/><circle cx="1678.5" cy="616.2" r="3.1"/><circle cx="1692.5" cy="617.2" r="3.1"/><circle cx="1695.5" cy="618.2" r="3.1"/><circle cx="1706.5" cy="620.2" r="3.1"/><circle cx="1605.5" cy="631.2" r="3.1"/><circle cx="1614.5" cy="635.2" r="3.1"/><circle cx="1615.5" cy="638.2" r="3.1"/><circle cx="1638.5" cy="631.2" r="3.1"/><circle cx="1667.5" cy="631.2" r="3.1"/><circle cx="1664.5" cy="635.2" r="3.1"/><circle cx="1672.5" cy="629.2" r="3.1"/><circle cx="1630.5" cy="641.2" r="3.1"/><circle cx="1607.5" cy="650.2" r="3.1"/><circle cx="1664.5" cy="646.2" r="3.1"/><circle cx="1674.5" cy="646.2" r="3.1"/><circle cx="1655.5" cy="657.2" r="3.1"/><circle cx="1630.5" cy="664.2" r="3.1"/><circle cx="1620.5" cy="674.2" r="3.1"/><circle cx="1633.5" cy="685.2" r="3.1"/><circle cx="1637.5" cy="684.2" r="3.1"/><circle cx="1602.5" cy="705.2" r="3.1"/><circle cx="1614.5" cy="709.2" r="3.1"/><circle cx="1634.5" cy="709.2" r="3.1"/><circle cx="1604.5" cy="716.2" r="3.1"/><circle cx="1624.5" cy="727.2" r="3.1"/><circle cx="1720.5" cy="564.2" r="3.1"/><circle cx="1726.5" cy="566.2" r="3.1"/><circle cx="1720.5" cy="571.2" r="3.1"/><circle cx="1742.5" cy="571.2" r="3.1"/><circle cx="1750.5" cy="564.2" r="3.1"/><circle cx="1758.5" cy="561.2" r="3.1"/><circle cx="1775.5" cy="575.2" r="3.1"/><circle cx="1794.5" cy="579.2" r="3.1"/><circle cx="1794.5" cy="561.2" r="3.1"/><circle cx="1796.5" cy="563.2" r="3.1"/><circle cx="1801.5" cy="586.2" r="3.1"/><circle cx="1724.5" cy="590.2" r="3.1"/><circle cx="1713.5" cy="600.2" r="3.1"/><circle cx="1715.5" cy="622.2" r="3.1"/><circle cx="1761.5" cy="609.2" r="3.1"/><circle cx="1765.5" cy="612.2" r="3.1"/><circle cx="1769.5" cy="603.2" r="3.1"/><circle cx="1794.5" cy="616.2" r="3.1"/><circle cx="1802.5" cy="635.2" r="3.1"/><circle cx="1821.5" cy="638.2" r="3.1"/><circle cx="1779.5" cy="711.2" r="3.1"/><circle cx="1800.5" cy="293.2" r="3.1"/><circle cx="1687.2" cy="315.2" r="3.1"/><circle cx="1778.2" cy="323.2" r="3.1"/><circle cx="1805.5" cy="319.2" r="3.1"/><circle cx="1817.5" cy="330.2" r="3.1"/><circle cx="1770.2" cy="362.2" r="3.1"/><circle cx="1723.2" cy="378.2" r="3.1"/><circle cx="1671.5" cy="384.2" r="3.1"/><circle cx="1667.5" cy="392.2" r="3.1"/><circle cx="1684.5" cy="393.2" r="3.1"/><circle cx="1693.5" cy="395.2" r="3.1"/><circle cx="1665.5" cy="404.2" r="3.1"/><circle cx="1713.5" cy="401.2" r="3.1"/><circle cx="1708.5" cy="408.2" r="3.1"/><circle cx="1730.5" cy="434.2" r="3.1"/><circle cx="1735.5" cy="434.2" r="3.1"/><circle cx="1740.5" cy="434.2" r="3.1"/><circle cx="1725.5" cy="449.2" r="3.1"/><circle cx="1732.5" cy="463.2" r="3.1"/><circle cx="1637.5" cy="453.2" r="3.1"/><circle cx="1683.5" cy="456.2" r="3.1"/><circle cx="1603.5" cy="462.2" r="3.1"/><circle cx="1812.5" cy="460.2" r="3.1"/><circle cx="1814.5" cy="460.2" r="3.1"/><circle cx="1749.5" cy="480.2" r="3.1"/><circle cx="1771.5" cy="479.2" r="3.1"/><circle cx="1783.5" cy="492.2" r="3.1"/><circle cx="1702.5" cy="486.2" r="3.1"/><circle cx="1671.5" cy="494.2" r="3.1"/><circle cx="1726.5" cy="501.2" r="3.1"/><circle cx="1730.5" cy="505.2" r="3.1"/><circle cx="1779.5" cy="510.2" r="3.1"/><circle cx="1786.5" cy="516.2" r="3.1"/><circle cx="1756.5" cy="516.2" r="3.1"/><circle cx="1747.5" cy="521.2" r="3.1"/><circle cx="1740.5" cy="523.2" r="3.1"/><circle cx="1723.5" cy="525.2" r="3.1"/><circle cx="1720.5" cy="530.2" r="3.1"/><circle cx="1779.5" cy="523.2" r="3.1"/><circle cx="1780.5" cy="531.2" r="3.1"/><circle cx="1781.5" cy="536.2" r="3.1"/><circle cx="1632.5" cy="523.2" r="3.1"/><circle cx="1610.5" cy="538.2" r="3.1"/><circle cx="1697.5" cy="535.2" r="3.1"/><circle cx="1686.5" cy="542.2" r="3.1"/><circle cx="1736.5" cy="538.2" r="3.1"/><circle cx="1755.5" cy="537.2" r="3.1"/><circle cx="1753.5" cy="542.2" r="3.1"/><circle cx="1726.5" cy="545.2" r="3.1"/><circle cx="1785.5" cy="544.2" r="3.1"/><circle cx="1786.5" cy="545.2" r="3.1"/><circle cx="1804.5" cy="541.2" r="3.1"/><circle cx="1719.5" cy="552.2" r="3.1"/><circle cx="1737.5" cy="553.2" r="3.1"/><circle cx="1734.5" cy="557.2" r="3.1"/><circle cx="1753.5" cy="551.2" r="3.1"/><circle cx="1681.5" cy="557.2" r="3.1"/><circle cx="1785.5" cy="557.2" r="3.1"/><circle cx="1819.5" cy="557.2" r="3.1"/><circle cx="1368.5" cy="312.2" r="3.1"/><circle cx="1554.5" cy="367.2" r="3.1"/><circle cx="1569.5" cy="413.2" r="3.1"/><circle cx="1570.5" cy="416.8" r="3.1"/><circle cx="1445.5" cy="464.2" r="3.1"/><circle cx="1452.5" cy="471.2" r="3.1"/><circle cx="1472.5" cy="471.2" r="3.1"/><circle cx="1455.5" cy="494.2" r="3.1"/><circle cx="1459.5" cy="494.2" r="3.1"/><circle cx="1511.2" cy="458.2" r="3.1"/><circle cx="1517.2" cy="473.2" r="3.1"/><circle cx="1547.2" cy="460.2" r="3.1"/><circle cx="1587.2" cy="479.2" r="3.1"/><circle cx="1512.2" cy="491.2" r="3.1"/><circle cx="1550.2" cy="497.2" r="3.1"/><circle cx="1518.2" cy="520.2" r="3.1"/><circle cx="1550.2" cy="518.2" r="3.1"/><circle cx="1450.5" cy="553.2" r="3.1"/><circle cx="1340.0" cy="293.2" r="3.1"/><circle cx="1196.5" cy="388.2" r="3.1"/><circle cx="1178.2" cy="456.2" r="3.1"/><circle cx="1131.2" cy="464.2" r="3.1"/><circle cx="1354.2" cy="545.2" r="3.1"/><circle cx="779.5" cy="487.5" r="3.1"/><circle cx="986.2" cy="534.2" r="3.1"/><circle cx="1199.2" cy="182.2" r="3.1"/><circle cx="1336.5" cy="241.5" r="3.1"/><circle cx="1368.2" cy="312.5" r="3.1"/><circle cx="1738.5" cy="128.3" r="3.1"/><circle cx="1781.5" cy="220.4" r="3.1"/><circle cx="1763.3" cy="237.4" r="3.1"/><circle cx="1716.3" cy="249.3" r="3.1"/><circle cx="1734.4" cy="256.5" r="3.1"/><circle cx="1784.3" cy="264.3" r="3.1"/><circle cx="1806.5" cy="271.3" r="3.1"/><circle cx="1072.5" cy="846.3" r="3.1"/></g>
<g stroke="#b0b0b0" stroke-opacity="0.6" stroke-width="0.9" stroke-dasharray="4.85 2.215" stroke-dashoffset="-0.4" fill="none"><line x1="111.5" y1="961.50" x2="1902.4" y2="961.50"/><line x1="111.5" y1="887.50" x2="1902.4" y2="887.50"/><line x1="111.5" y1="813.50" x2="1902.4" y2="813.50"/><line x1="111.5" y1="739.50" x2="1902.4" y2="739.50"/><line x1="111.5" y1="664.50" x2="1902.4" y2="664.50"/><line x1="111.5" y1="590.50" x2="1902.4" y2="590.50"/><line x1="111.5" y1="516.50" x2="1902.4" y2="516.50"/><line x1="111.5" y1="442.50" x2="1902.4" y2="442.50"/><line x1="111.5" y1="367.50" x2="1902.4" y2="367.50"/><line x1="111.5" y1="293.50" x2="1902.4" y2="293.50"/><line x1="111.5" y1="219.50" x2="1902.4" y2="219.50"/><line x1="111.5" y1="145.50" x2="1902.4" y2="145.50"/><line x1="132.50" y1="1036.4" x2="132.50" y2="70.5"/><line x1="357.50" y1="1036.4" x2="357.50" y2="70.5"/><line x1="583.50" y1="1036.4" x2="583.50" y2="70.5"/><line x1="808.50" y1="1036.4" x2="808.50" y2="70.5"/><line x1="1033.50" y1="1036.4" x2="1033.50" y2="70.5"/><line x1="1259.50" y1="1036.4" x2="1259.50" y2="70.5"/><line x1="1484.50" y1="1036.4" x2="1484.50" y2="70.5"/><line x1="1710.50" y1="1036.4" x2="1710.50" y2="70.5"/></g>
<rect x="1685.5" y="832" width="197" height="193" fill="#fff"/>
<rect x="111.5" y="70.5" width="1790.9" height="965.9" fill="none" stroke="#000" stroke-width="1.25"/>
<g stroke="#000" stroke-width="1.25"><line x1="105.6" y1="1036.40" x2="111.5" y2="1036.40"/><line x1="105.6" y1="961.50" x2="111.5" y2="961.50"/><line x1="105.6" y1="887.50" x2="111.5" y2="887.50"/><line x1="105.6" y1="813.50" x2="111.5" y2="813.50"/><line x1="105.6" y1="739.50" x2="111.5" y2="739.50"/><line x1="105.6" y1="664.50" x2="111.5" y2="664.50"/><line x1="105.6" y1="590.50" x2="111.5" y2="590.50"/><line x1="105.6" y1="516.50" x2="111.5" y2="516.50"/><line x1="105.6" y1="442.50" x2="111.5" y2="442.50"/><line x1="105.6" y1="367.50" x2="111.5" y2="367.50"/><line x1="105.6" y1="293.50" x2="111.5" y2="293.50"/><line x1="105.6" y1="219.50" x2="111.5" y2="219.50"/><line x1="105.6" y1="145.50" x2="111.5" y2="145.50"/><line x1="105.6" y1="70.50" x2="111.5" y2="70.50"/><line x1="132.50" y1="1036.4" x2="132.50" y2="1042.3"/><line x1="357.50" y1="1036.4" x2="357.50" y2="1042.3"/><line x1="583.50" y1="1036.4" x2="583.50" y2="1042.3"/><line x1="808.50" y1="1036.4" x2="808.50" y2="1042.3"/><line x1="1033.50" y1="1036.4" x2="1033.50" y2="1042.3"/><line x1="1259.50" y1="1036.4" x2="1259.50" y2="1042.3"/><line x1="1484.50" y1="1036.4" x2="1484.50" y2="1042.3"/><line x1="1710.50" y1="1036.4" x2="1710.50" y2="1042.3"/></g>
<g font-size="15" fill="#1a1a1a"><text x="97.3" y="1041.7" text-anchor="end" textLength="16.9" lengthAdjust="spacingAndGlyphs">$0</text><text x="97.3" y="966.8" text-anchor="end" textLength="64.8" lengthAdjust="spacingAndGlyphs">$100,000</text><text x="97.3" y="892.8" text-anchor="end" textLength="69.0" lengthAdjust="spacingAndGlyphs">$200,000</text><text x="97.3" y="818.8" text-anchor="end" textLength="69.0" lengthAdjust="spacingAndGlyphs">$300,000</text><text x="97.3" y="744.8" text-anchor="end" textLength="69.0" lengthAdjust="spacingAndGlyphs">$400,000</text><text x="97.3" y="669.8" text-anchor="end" textLength="69.0" lengthAdjust="spacingAndGlyphs">$500,000</text><text x="97.3" y="595.8" text-anchor="end" textLength="69.0" lengthAdjust="spacingAndGlyphs">$600,000</text><text x="97.3" y="521.8" text-anchor="end" textLength="69.0" lengthAdjust="spacingAndGlyphs">$700,000</text><text x="97.3" y="447.8" text-anchor="end" textLength="69.0" lengthAdjust="spacingAndGlyphs">$800,000</text><text x="97.3" y="372.8" text-anchor="end" textLength="69.0" lengthAdjust="spacingAndGlyphs">$900,000</text><text x="97.3" y="298.8" text-anchor="end" textLength="78.1" lengthAdjust="spacingAndGlyphs">$1,000,000</text><text x="97.3" y="224.8" text-anchor="end" textLength="74.4" lengthAdjust="spacingAndGlyphs">$1,100,000</text><text x="97.3" y="150.8" text-anchor="end" textLength="77.5" lengthAdjust="spacingAndGlyphs">$1,200,000</text><text x="97.3" y="75.8" text-anchor="end" textLength="77.5" lengthAdjust="spacingAndGlyphs">$1,300,000</text><text x="131.90" y="1058.7" text-anchor="middle" textLength="31.4" lengthAdjust="spacingAndGlyphs">1996</text><text x="356.90" y="1058.7" text-anchor="middle" textLength="36.4" lengthAdjust="spacingAndGlyphs">2000</text><text x="582.90" y="1058.7" text-anchor="middle" textLength="36.8" lengthAdjust="spacingAndGlyphs">2004</text><text x="807.90" y="1058.7" text-anchor="middle" textLength="36.6" lengthAdjust="spacingAndGlyphs">2008</text><text x="1032.90" y="1058.7" text-anchor="middle" textLength="30.4" lengthAdjust="spacingAndGlyphs">2012</text><text x="1258.90" y="1058.7" text-anchor="middle" textLength="31.4" lengthAdjust="spacingAndGlyphs">2016</text><text x="1483.90" y="1058.7" text-anchor="middle" textLength="36.4" lengthAdjust="spacingAndGlyphs">2020</text><text x="1709.90" y="1058.7" text-anchor="middle" textLength="36.0" lengthAdjust="spacingAndGlyphs">2024</text></g>
<text x="1006.8" y="37.3" text-anchor="middle" font-size="25" font-weight="bold" fill="#0b5b97" textLength="514.2" lengthAdjust="spacingAndGlyphs">Highwood – Detached Home Sales History</text>
<text x="1883" y="47.7" text-anchor="end" font-size="13" font-style="italic" fill="#444" textLength="162.5" lengthAdjust="spacingAndGlyphs">Over 1.5 Million Excluded</text>
<text transform="translate(149.9,553.3) rotate(-90)" x="0" y="0" font-size="18" font-weight="bold" fill="#555" stroke="#555" stroke-width="0.3" textLength="96.3" lengthAdjust="spacingAndGlyphs">Sold Price</text>
<text x="241" y="1017" font-size="18" font-weight="bold" fill="#505050" stroke="#505050" stroke-width="0.3" textLength="156" lengthAdjust="spacingAndGlyphs">Date Home Sold</text>
<text x="893" y="1011.9" font-size="15" fill="#2a6f9f" textLength="709.3" lengthAdjust="spacingAndGlyphs">Jerry Charlton - Exp Realty - 403 831 0842 - Jerry@JerryCharlton.com - www.JerryCharlton.com</text>
<text x="1697.5" y="889.7" font-size="47.5" font-weight="bold" fill="#1652aa" stroke="#1652aa" stroke-width="0.5" textLength="109.8" lengthAdjust="spacingAndGlyphs">Jerry</text>
<text x="1695.2" y="932.1" font-size="44.7" font-weight="bold" fill="#1592d8" stroke="#1592d8" stroke-width="0.5" textLength="173.5" lengthAdjust="spacingAndGlyphs">Charlton</text>
<text x="1695.8" y="961.1" font-size="32" font-weight="bold" fill="#1652aa" stroke="#1652aa" stroke-width="0.4" textLength="171" lengthAdjust="spacingAndGlyphs">Real Estate</text>
<text x="1695.4" y="996.2" font-size="29" font-weight="bold" fill="#000" stroke="#000" stroke-width="0.3" textLength="177" lengthAdjust="spacingAndGlyphs">403 831 0842</text>
<rect x="1705.3" y="855.5" width="6.8" height="8" fill="#fff"/>
<path d="M1739.6 904.8 L1763.6 890.4 L1787.5 904.8" fill="none" stroke="#a3b8ce" stroke-width="2.1" stroke-linejoin="miter"/>
<g fill="#8fa5bd"><rect x="1759.9" y="899.6" width="3.4" height="3.3"/><rect x="1764.3" y="899.6" width="3.4" height="3.3"/><rect x="1759.9" y="903.6" width="3.4" height="3.3"/><rect x="1764.3" y="903.6" width="3.4" height="3.3"/></g>
</svg></body></html>
